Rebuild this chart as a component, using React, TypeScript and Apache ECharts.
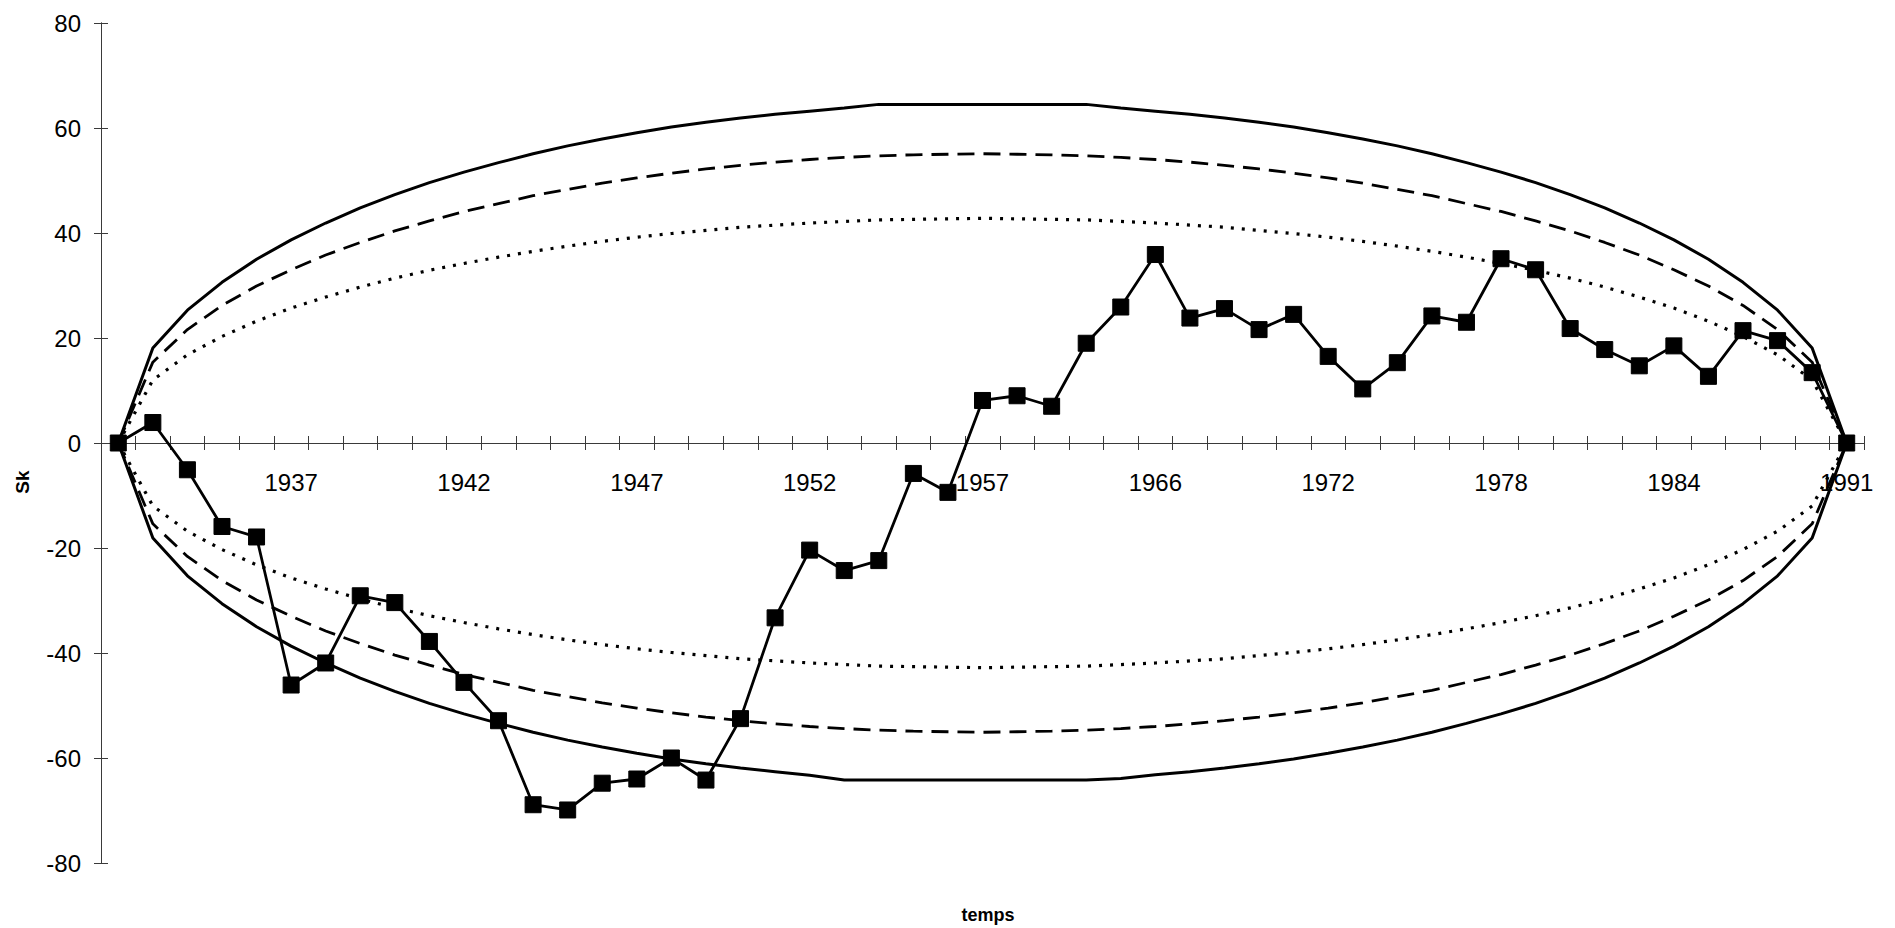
import React, { useEffect, useRef } from "react";
import * as echarts from "echarts";

// Category years (only every 5th is labelled in the reference)
const years: string[] = [
  "1932", "1933", "1934", "1935", "1936", "1937", "1938", "1939", "1940", "1941",
  "1942", "1943", "1944", "1945", "1946", "1947", "1948", "1949", "1950", "1951",
  "1952", "1953", "1954", "1955", "1956", "1957", "1958", "1960", "1962", "1964",
  "1966", "1967", "1968", "1969", "1971", "1972", "1973", "1974", "1975", "1977",
  "1978", "1979", "1980", "1981", "1983", "1984", "1986", "1987", "1988", "1990",
  "1991",
];

// Sk series (squares)
const sk: number[] = [
  0, 3.9, -5.1, -15.9, -17.9, -46.1, -41.9, -29.1, -30.4, -37.8,
  -45.6, -52.9, -68.9, -69.9, -64.8, -64.0, -60.0, -64.2, -52.5, -33.3,
  -20.4, -24.3, -22.4, -5.8, -9.4, 8.1, 9.0, 7.0, 19.0, 25.9,
  35.9, 23.8, 25.6, 21.6, 24.5, 16.5, 10.3, 15.3, 24.2, 23.0,
  35.1, 33.0, 21.8, 17.8, 14.7, 18.5, 12.7, 21.4, 19.5, 13.4,
  0,
];

// Outer bound (solid)
const solidUpper: number[] = [
  0, 18.1, 25.3, 30.6, 35.0, 38.7, 41.9, 44.8, 47.3, 49.6,
  51.6, 53.4, 55.1, 56.6, 57.9, 59.1, 60.2, 61.1, 61.9, 62.6,
  63.2, 63.8, 64.5, 64.5, 64.5, 64.5, 64.5, 64.5, 64.5, 63.8,
  63.2, 62.6, 61.9, 61.1, 60.2, 59.1, 57.9, 56.6, 55.1, 53.4,
  51.6, 49.6, 47.3, 44.8, 41.9, 38.7, 35.0, 30.6, 25.3, 18.1,
  0,
];
const solidLower: number[] = [
  0, -18.1, -25.3, -30.6, -35.0, -38.7, -41.9, -44.8, -47.3, -49.6,
  -51.6, -53.4, -55.1, -56.6, -57.9, -59.1, -60.2, -61.1, -61.9, -62.6,
  -63.3, -64.2, -64.2, -64.2, -64.2, -64.2, -64.2, -64.2, -64.2, -63.9,
  -63.2, -62.6, -61.9, -61.1, -60.2, -59.1, -57.9, -56.6, -55.1, -53.4,
  -51.6, -49.6, -47.3, -44.8, -41.9, -38.7, -35.0, -30.6, -25.3, -18.1,
  0,
];

// Middle bound (dashed)
const dashedUpper: number[] = [
  0, 15.4, 21.6, 26.2, 29.9, 33.0, 35.8, 38.2, 40.4, 42.3,
  44.1, 45.6, 47.1, 48.3, 49.5, 50.5, 51.4, 52.2, 52.9, 53.5,
  54.0, 54.4, 54.7, 54.9, 55.0, 55.1, 55.0, 54.9, 54.7, 54.4,
  54.0, 53.5, 52.9, 52.2, 51.4, 50.5, 49.5, 48.3, 47.1, 45.6,
  44.1, 42.3, 40.4, 38.2, 35.8, 33.0, 29.9, 26.2, 21.6, 15.4,
  0,
];
const dashedLower: number[] = [
  0, -15.4, -21.6, -26.2, -29.9, -33.0, -35.8, -38.2, -40.4, -42.3,
  -44.1, -45.6, -47.1, -48.3, -49.5, -50.5, -51.4, -52.2, -52.9, -53.5,
  -54.0, -54.4, -54.7, -54.9, -55.0, -55.1, -55.0, -54.9, -54.7, -54.4,
  -54.0, -53.5, -52.9, -52.2, -51.4, -50.5, -49.5, -48.3, -47.1, -45.6,
  -44.1, -42.3, -40.4, -38.2, -35.8, -33.0, -29.9, -26.2, -21.6, -15.4,
  0,
];

// Inner bound (dotted)
const dottedUpper: number[] = [
  0, 12.0, 16.8, 20.3, 23.2, 25.7, 27.8, 29.7, 31.4, 32.9,
  34.2, 35.4, 36.5, 37.5, 38.4, 39.2, 39.9, 40.5, 41.1, 41.5,
  41.9, 42.2, 42.5, 42.6, 42.7, 42.8, 42.7, 42.6, 42.5, 42.2,
  41.9, 41.5, 41.1, 40.5, 39.9, 39.2, 38.4, 37.5, 36.5, 35.4,
  34.2, 32.9, 31.4, 29.7, 27.8, 25.7, 23.2, 20.3, 16.8, 12.0,
  0,
];
const dottedLower: number[] = [
  0, -12.0, -16.8, -20.3, -23.2, -25.7, -27.8, -29.7, -31.4, -32.9,
  -34.2, -35.4, -36.5, -37.5, -38.4, -39.2, -39.9, -40.5, -41.1, -41.5,
  -41.9, -42.2, -42.5, -42.6, -42.7, -42.8, -42.7, -42.6, -42.5, -42.2,
  -41.9, -41.5, -41.1, -40.5, -39.9, -39.2, -38.4, -37.5, -36.5, -35.4,
  -34.2, -32.9, -31.4, -29.7, -27.8, -25.7, -23.2, -20.3, -16.8, -12.0,
  0,
];

const yTicks = { min: -80, max: 80, interval: 20 };

const FONT = "'Liberation Sans', Arial, Helvetica, sans-serif";
const INK = "#000";
const AXIS = "#3a3a3a";

// plot-area layout (pixels)
const LEFT = 101;
const RIGHT = 31;
const TOP = 23;
const BOTTOM = 65;
const H = 928;
const ZERO_Y = TOP + (H - TOP - BOTTOM) / 2; // pixel row of value 0

export default function App() {
  const ref = useRef<HTMLDivElement>(null);

  useEffect(() => {
    if (!ref.current) return;
    const chart = echarts.init(ref.current, null, { renderer: "svg" });

    const line = (data: number[], type: any, width: number, z: number) => ({
      type: "line",
      data,
      showSymbol: false,
      symbol: "none",
      lineStyle: { color: INK, width, type },
      z,
      silent: true,
    });

    const tickAxis = (inside: boolean, labels: boolean) => ({
      type: "category",
      gridIndex: 1,
      data: years,
      boundaryGap: true,
      position: "bottom",
      axisLine: { show: true, onZero: false, lineStyle: { color: AXIS, width: 1 } },
      axisTick: { show: true, inside, length: 7, interval: 0, lineStyle: { color: AXIS, width: 1 } },
      axisLabel: labels
        ? {
            show: true,
            interval: (index: number) => index % 5 === 0 && index !== 0,
            margin: 27,
            color: INK,
            fontSize: 24,
            fontFamily: FONT,
          }
        : { show: false },
      splitLine: { show: false },
    });

    const option: any = {
      animation: false,
      backgroundColor: "#fff",
      grid: [
        { left: LEFT, right: RIGHT, top: TOP, bottom: BOTTOM, containLabel: false },
        { left: LEFT, right: RIGHT, top: TOP, bottom: H - ZERO_Y, containLabel: false },
      ],
      xAxis: [
        {
          type: "category",
          gridIndex: 0,
          data: years,
          boundaryGap: true,
          show: false,
        },
        tickAxis(false, true),
        tickAxis(true, false),
      ],
      yAxis: [
        {
          type: "value",
          gridIndex: 0,
          min: yTicks.min,
          max: yTicks.max,
          interval: yTicks.interval,
          position: "left",
          axisLine: { show: true, onZero: false, lineStyle: { color: AXIS, width: 1 } },
          axisTick: { show: true, inside: false, length: 7, lineStyle: { color: AXIS, width: 1 } },
          axisLabel: { margin: 20, color: INK, fontSize: 24, fontFamily: FONT },
          splitLine: { show: false },
        },
        {
          type: "value",
          gridIndex: 0,
          min: yTicks.min,
          max: yTicks.max,
          interval: yTicks.interval,
          position: "left",
          axisLine: { show: true, onZero: false, lineStyle: { color: AXIS, width: 1 } },
          axisTick: { show: true, inside: true, length: 7, lineStyle: { color: AXIS, width: 1 } },
          axisLabel: { show: false },
          splitLine: { show: false },
        },
        {
          type: "value",
          gridIndex: 1,
          min: 0,
          max: 1,
          show: false,
        },
      ],
      graphic: [
        {
          type: "text",
          x: 22,
          y: 482,
          rotation: Math.PI / 2,
          style: {
            text: "Sk",
            font: `bold 19px ${FONT}`,
            fill: INK,
            textAlign: "center",
            textVerticalAlign: "middle",
          },
        },
        {
          type: "text",
          x: 988,
          y: 915,
          style: {
            text: "temps",
            font: `bold 18px ${FONT}`,
            fill: INK,
            textAlign: "center",
            textVerticalAlign: "middle",
          },
        },
      ],
      series: [
        line(solidUpper, "solid", 3, 2),
        line(solidLower, "solid", 3, 2),
        line(dashedUpper, [17, 9], 2.8, 2),
        line(dashedLower, [17, 9], 2.8, 2),
        line(dottedUpper, [3, 8], 3.2, 2),
        line(dottedLower, [3, 8], 3.2, 2),
        {
          type: "line",
          name: "Sk",
          data: sk,
          symbol: "rect",
          symbolSize: 16,
          showSymbol: true,
          itemStyle: { color: INK, borderColor: INK },
          lineStyle: { color: INK, width: 2.8 },
          z: 5,
        },
      ],
    };

    chart.setOption(option);
    return () => chart.dispose();
  }, []);

  return (
    <div
      ref={ref}
      style={{ position: "fixed", left: 0, top: 0, width: 1895, height: 928, background: "#fff" }}
    />
  );
}
